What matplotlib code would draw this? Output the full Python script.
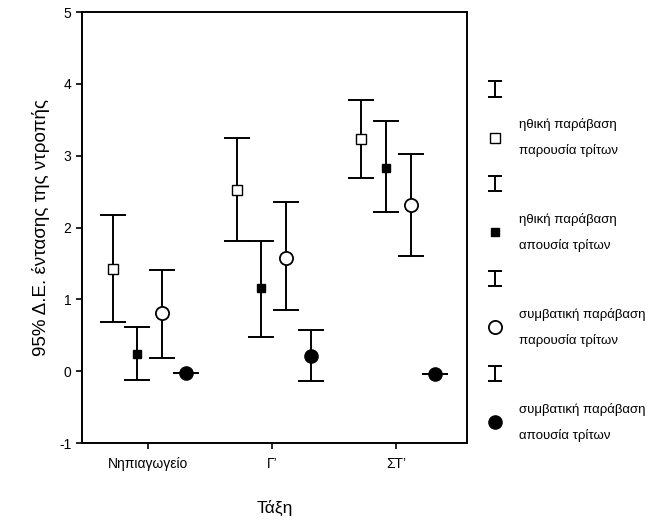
import matplotlib

matplotlib.use("Agg")
import matplotlib.pyplot as plt
import numpy as np
from matplotlib.legend_handler import HandlerErrorbar
from matplotlib.lines import Line2D

plt.rcParams["font.family"] = ["Liberation Sans", "DejaVu Sans"]
plt.rcParams["axes.unicode_minus"] = False

# data: means and 95% CI bounds per class
grades = ["Νηπιαγωγείο", "Γ’", "ΣΤ’"]
series_labels = [
    "ηθική παράβαση\nπαρουσία τρίτων",
    "ηθική παράβαση\nαπουσία τρίτων",
    "συμβατική παράβαση\nπαρουσία τρίτων",
    "συμβατική παράβαση\nαπουσία τρίτων",
]
means = [
    [1.43, 2.53, 3.23],
    [0.24, 1.16, 2.83],
    [0.81, 1.58, 2.31],
    [-0.02, 0.21, -0.04],
]
upper = [
    [2.17, 3.25, 3.78],
    [0.61, 1.82, 3.48],
    [1.41, 2.35, 3.02],
    [-0.02, 0.57, -0.04],
]
lower = [
    [0.69, 1.81, 2.69],
    [-0.125, 0.48, 2.22],
    [0.19, 0.85, 1.61],
    [-0.02, -0.13, -0.04],
]

offsets = [-0.28, -0.085, 0.115, 0.31]
styles = [
    dict(marker="s", mfc="white", mec="black", ms=6.5, mew=1.0),
    dict(marker="s", mfc="black", mec="black", ms=6, mew=1.0),
    dict(marker="o", mfc="white", mec="black", ms=9.5, mew=1.3),
    dict(marker="o", mfc="black", mec="black", ms=9.5, mew=1.0),
]


def small_caps(legend_artist, orig):
    # legend "I" symbol: narrower caps than on the plot
    legend_artist.update_from(orig)
    if isinstance(legend_artist, Line2D):
        legend_artist.set_markersize(10)


fig = plt.figure(figsize=(6.72, 5.25), dpi=100)
ax = fig.add_axes([0.122, 0.156, 0.573, 0.821])

x = np.arange(len(grades))
handles, labels = [], []
for i in range(4):
    m = np.array(means[i])
    err = [m - np.array(lower[i]), np.array(upper[i]) - m]
    eb = ax.errorbar(x + offsets[i], m, yerr=err, fmt="none", ecolor="black",
                     elinewidth=1.4, capsize=9.5, capthick=1.4)
    (mk,) = ax.plot(x + offsets[i], m, ls="none", zorder=3, **styles[i])
    handles += [eb, mk]
    labels += ["", series_labels[i]]

ax.set_xlim(-0.53, 2.57)
ax.set_ylim(-1, 5)
ax.set_xticks(x)
ax.set_xticklabels(grades, fontsize=10)
ax.set_yticks(range(-1, 6))
ax.tick_params(axis="y", labelsize=10, length=4, width=1.2)
ax.tick_params(axis="x", length=4, width=1.2, pad=6)
for s in ax.spines.values():
    s.set_linewidth(1.4)

ax.set_ylabel("95% Δ.Ε. έντασης της ντροπής", fontsize=13.5, labelpad=7)
ax.set_xlabel("Τάξη", fontsize=12.5, labelpad=21)

leg = fig.legend(handles, labels, loc="upper left", bbox_to_anchor=(0.71, 0.862),
                 frameon=False, fontsize=9.5, handlelength=0.9, handletextpad=1.4,
                 labelspacing=1.65,
                 handler_map={type(handles[0]): HandlerErrorbar(yerr_size=0.58,
                                                                update_func=small_caps)})
for t in leg.get_texts():
    t.set_linespacing(2.3)

fig.savefig("out.png", dpi=100)
